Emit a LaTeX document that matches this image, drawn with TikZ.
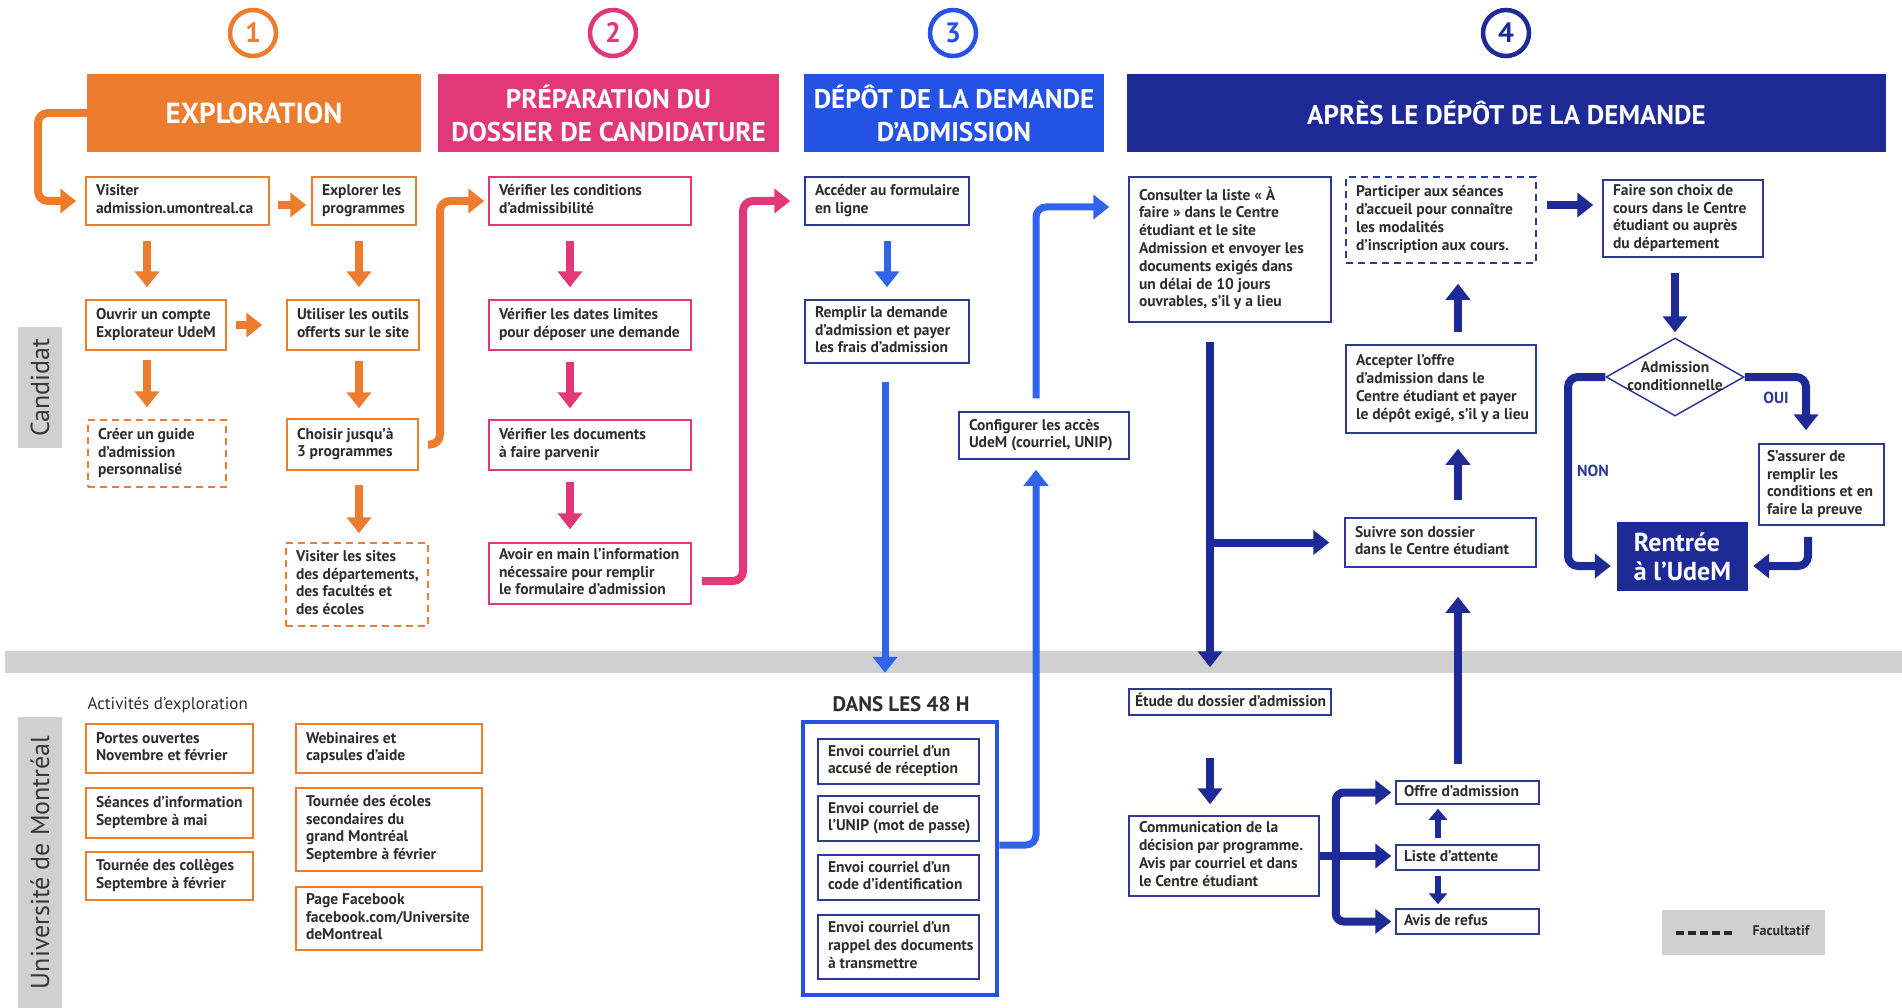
\documentclass[tikz,border=0pt]{standalone}
\usepackage{fontspec}
\setmainfont{PT Sans}
\usetikzlibrary{arrows.meta,shapes.geometric,calc}
\definecolor{orng}{RGB}{236,124,46}
\definecolor{pnk}{RGB}{226,56,122}
\definecolor{blu}{RGB}{36,82,228}
\definecolor{bluar}{RGB}{48,100,234}
\definecolor{navy}{RGB}{30,42,150}
\definecolor{bnavy}{RGB}{44,58,150}
\definecolor{lgray}{RGB}{208,208,208}
\definecolor{txt}{RGB}{45,45,45}
\definecolor{sidetxt}{RGB}{55,55,55}
\newcommand\padx{10}
\newcommand\mybx[7]{%
 \pgfmathsetmacro\bxw{#5-#3}%
 \pgfmathsetmacro\bxh{#6-#4}%
 \pgfmathsetmacro\bxcx{(#3+#5)/2}%
 \pgfmathsetmacro\bxcy{(#4+#6)/2}%
 \pgfmathsetmacro\bxtw{#5-#3-2*\padx}%
 \node[#1, minimum width=\bxw pt, minimum height=\bxh pt, inner xsep=\padx pt, inner ysep=0pt] (#2) at (\bxcx,\bxcy) {\makebox[\bxtw pt][l]{\begin{tabular}{@{}l@{}}#7\end{tabular}}};}
\begin{document}
\begin{tikzpicture}[x=1pt,y=-1pt,
  font=\fontsize{15.5}{17.8}\selectfont\bfseries,
  every node/.style={text=txt},
  ob/.style={draw=orng,line width=1.5pt},
  obd/.style={ob,dash pattern=on 7pt off 5pt},
  pb/.style={draw=pnk,line width=1.5pt},
  nb/.style={draw=bnavy,line width=1.5pt},
  nbd/.style={nb,dash pattern=on 7pt off 5pt},
  hdr/.style={text=white,align=center,inner sep=0pt,font=\fontsize{27}{33}\selectfont\bfseries},
  numc/.style={circle,fill=white,line width=4.5pt,minimum size=46pt,inner sep=0pt,font=\fontsize{28}{28}\selectfont\bfseries},
  sidelbl/.style={fill=lgray,rotate=90,inner sep=0pt,font=\fontsize{26}{26}\selectfont,text=sidetxt},
  oarr/.style={draw=orng,line width=8pt,-{Triangle[width=24pt,length=16pt]}},
  parr/.style={draw=pnk,line width=8pt,-{Triangle[width=24pt,length=16pt]}},
  barr/.style={draw=bluar,line width=7pt,-{Triangle[width=24pt,length=16pt]}},
  narr/.style={draw=navy,line width=8pt,-{Triangle[width=24pt,length=16pt]}},
  nsm/.style={draw=navy,line width=6pt,-{Triangle[width=18pt,length=11pt]}},
]
\useasboundingbox (0,0) rectangle (1902,1008);

% band and side labels
\fill[lgray] (5,651) rectangle (1902,673);
\node[sidelbl, minimum width=121pt, minimum height=44pt] (cand) at (40,387.5) {Candidat};
\node[sidelbl, minimum width=291pt, minimum height=44pt] (udem) at (40,862.5) {Université de Montréal};

% numbers
\node[numc, draw=orng, text=orng] (n1) at (253,33) {1};
\node[numc, draw=pnk, text=pnk] (n2) at (613,33) {2};
\node[numc, draw=blu, text=blu] (n3) at (953,33) {3};
\node[numc, draw=navy, text=navy] (n4) at (1506,33) {4};

% headers
\node[hdr, fill=orng, minimum width=334pt, minimum height=78pt, font=\fontsize{29}{30}\selectfont\bfseries] (h1) at (254,113) {EXPLORATION};
\node[hdr, fill=pnk, minimum width=341pt, minimum height=78pt] (h2) at (608.5,113) {PRÉPARATION DU\\DOSSIER DE CANDIDATURE};
\node[hdr, fill=blu, minimum width=300pt, minimum height=78pt] (h3) at (954,113) {DÉPÔT DE LA DEMANDE\\D’ADMISSION};
\node[hdr, fill=navy, minimum width=759pt, minimum height=78pt] (h4) at (1506.5,113) {APRÈS LE DÉPÔT DE LA DEMANDE};

% column 1
\mybx{ob}{visit}{86}{177}{269}{225}{Visiter\\admission.umontreal.ca}
\mybx{ob}{explorer}{312}{177}{416}{225}{Explorer les\\programmes}
\mybx{ob}{ouvrir}{86}{300}{226}{350}{Ouvrir un compte\\Explorateur UdeM}
\mybx{ob}{utiliser}{287}{300}{419}{350}{Utiliser les outils\\offerts sur le site}
\mybx{obd}{creer}{88}{420}{226}{487}{Créer un guide\\d’admission\\personnalisé}
\mybx{ob}{choisir}{287}{419}{418}{470}{Choisir jusqu’à\\3 programmes}
\mybx{obd}{sites}{286}{543}{428}{626}{Visiter les sites\\des départements,\\des facultés et\\des écoles}

% column 2
\mybx{pb}{v1}{489}{177}{691}{225}{Vérifier les conditions\\d’admissibilité}
\mybx{pb}{v2}{489}{300}{691}{350}{Vérifier les dates limites\\pour déposer une demande}
\mybx{pb}{v3}{489}{420}{691}{470}{Vérifier les documents\\à faire parvenir}
\mybx{pb}{v4}{489}{543}{691}{604}{Avoir en main l’information\\nécessaire pour remplir\\le formulaire d’admission}

% column 3
\mybx{nb}{acceder}{805}{177}{969}{225}{Accéder au formulaire\\en ligne}
\mybx{nb}{remplir}{805}{300}{969}{363}{Remplir la demande\\d’admission et payer\\les frais d’admission}
\mybx{nb}{config}{959}{412}{1129}{459}{Configurer les accès\\UdeM (courriel, UNIP)}
\node[font=\fontsize{21}{21}\selectfont\bfseries] (d48) at (901,704) {DANS LES 48 H};
\node[draw=blu, line width=4.5pt, minimum width=194pt, minimum height=273pt] (outer) at (900,858.5) {};
\mybx{nb}{e1}{818}{739}{979}{784}{Envoi courriel d’un\\accusé de réception}
\mybx{nb}{e2}{818}{796}{979}{841}{Envoi courriel de\\l’UNIP (mot de passe)}
\mybx{nb}{e3}{818}{855}{979}{900}{Envoi courriel d’un\\code d’identification}
\mybx{nb}{e4}{818}{915}{979}{979}{Envoi courriel d’un\\rappel des documents\\à transmettre}

% column 4
\mybx{nb}{consult}{1129}{177}{1331}{322}{Consulter la liste « À\\faire » dans le Centre\\étudiant  et le site\\Admission et envoyer les\\documents exigés dans\\un délai de 10 jours\\ouvrables,  s’il y a lieu}
\mybx{nbd}{particip}{1346}{177}{1536}{263}{Participer aux séances\\d’accueil pour connaître\\les modalités\\d’inscription aux cours.}
\mybx{nb}{faire}{1603}{180}{1763}{257}{Faire son choix de\\cours dans le Centre\\étudiant ou auprès\\du département}
\mybx{nb}{accepter}{1346}{345}{1536}{433}{Accepter l’offre\\d’admission dans le\\Centre étudiant et payer\\le dépôt exigé, s’il y a lieu}
\mybx{nb}{suivre}{1345}{518}{1536}{567}{Suivre son dossier\\dans le Centre étudiant}
\node[diamond, draw=bnavy, line width=1.5pt, minimum width=138pt, minimum height=78pt, inner sep=0pt] (diam) at (1675,377) {};
\node[align=center, inner sep=0pt] (diamtxt) at (1675,376) {Admission\\conditionnelle};
\renewcommand\padx{8}
\mybx{nb}{assurer}{1759}{444}{1884}{525}{S’assurer de\\remplir les\\conditions et en\\faire la preuve}
\node[fill=navy, text=white, minimum width=131pt, minimum height=69pt, align=left, font=\fontsize{26}{29}\selectfont\bfseries] (rentree) at (1682.5,556.5) {Rentrée\\à l’UdeM};
\node[text=bnavy, font=\fontsize{16}{16}\selectfont\bfseries] (non) at (1593,471) {NON};
\node[text=bnavy, font=\fontsize{16}{16}\selectfont\bfseries] (oui) at (1776,398) {OUI};
\renewcommand\padx{6}
\mybx{nb}{etude}{1129}{689}{1331}{715}{Étude du dossier d’admission}
\renewcommand\padx{10}
\mybx{nb}{comm}{1129}{816}{1319}{896}{Communication de la\\décision par programme.\\Avis par courriel et dans\\le Centre étudiant}
\renewcommand\padx{8}
\mybx{nb}{offre}{1396}{781}{1539}{804}{Offre d’admission}
\mybx{nb}{liste}{1396}{845}{1539}{870}{Liste d’attente}
\mybx{nb}{avis}{1396}{909}{1539}{934}{Avis de refus}
\renewcommand\padx{10}

% activities
\node[anchor=west, font=\fontsize{17}{17}\selectfont] (act) at (84,705) {Activités d’exploration};
\mybx{ob}{portes}{86}{724}{253}{773}{Portes ouvertes\\Novembre et février}
\mybx{ob}{seances}{86}{788}{253}{838}{Séances d’information\\Septembre à mai}
\mybx{ob}{colleges}{86}{852}{253}{900}{Tournée des collèges\\Septembre à février}
\mybx{ob}{webin}{296}{724}{482}{773}{Webinaires et\\capsules d’aide}
\mybx{ob}{ecoles}{296}{788}{482}{871}{Tournée des écoles\\secondaires du\\grand Montréal\\Septembre à février}
\mybx{ob}{facebook}{296}{887}{482}{950}{Page Facebook\\facebook.com/Universite\\deMontreal}

% legend
\node[fill=lgray, minimum width=163pt, minimum height=45pt] (leg) at (1743.5,932.5) {};
\draw[line width=4pt, black!85, dash pattern=on 8pt off 4pt] ([xshift=-67.5pt]leg.center) -- ([xshift=-10.5pt]leg.center);
\node[anchor=west, font=\fontsize{14}{14}\selectfont\bfseries] (fac) at (1749,931) {Facultatif};

% ---- connectors column 1
\draw[oarr, rounded corners=10pt] (h1.west) -- (38,113) -- (38,201) -- ([xshift=-9pt]visit.west);
\draw[oarr, shorten <=8pt, shorten >=5pt] ([yshift=-4pt]visit.east) -- ([yshift=-4pt]visit.east -| explorer.west);
\draw[oarr, shorten <=9pt, shorten >=24pt] (ouvrir.east) -- (ouvrir.east -| utiliser.west);
\draw[oarr, shorten <=15pt, shorten >=12pt] ([xshift=-9pt]ouvrir.north |- visit.south) -- ([xshift=-9pt]ouvrir.north);
\draw[oarr, shorten <=9pt, shorten >=12pt] ([xshift=-9pt]ouvrir.south) -- ([xshift=-9pt]ouvrir.south |- creer.north);
\draw[oarr, shorten <=15pt, shorten >=12pt] ([xshift=-5pt]explorer.south) -- ([xshift=-5pt]explorer.south |- utiliser.north);
\draw[oarr, shorten <=10pt, shorten >=10pt] ([xshift=-5pt]explorer.south |- utiliser.south) -- ([xshift=-5pt]explorer.south |- choisir.north);
\draw[oarr, shorten <=14pt, shorten >=9pt] ([xshift=-5pt]explorer.south |- choisir.south) -- ([xshift=-5pt]explorer.south |- sites.north);
\draw[oarr, rounded corners=10pt, shorten <=9pt] (choisir.east) -- (440,444.5) -- (440,201) -- ([xshift=-4pt]v1.west);

% ---- column 2
\draw[parr, shorten <=15pt, shorten >=12pt] ([xshift=-20pt]v1.south) -- ([xshift=-20pt]v2.north);
\draw[parr, shorten <=11pt, shorten >=11pt] ([xshift=-20pt]v2.south) -- ([xshift=-20pt]v3.north);
\draw[parr, shorten <=11pt, shorten >=13pt] ([xshift=-20pt]v3.south) -- ([xshift=-20pt]v4.north);
\draw[parr, rounded corners=10pt, shorten <=10pt] ([yshift=-7.5pt]v4.east) -- (743,581) -- (743,201) -- ([xshift=-14pt]acceder.west);

% ---- column 3
\draw[barr, shorten <=15pt, shorten >=12pt] (acceder.south) -- (remplir.north);
\draw[barr, shorten <=18pt, shorten >=20pt] ([xshift=-2pt]remplir.south) -- ([xshift=-2pt]remplir.south |- d48.north);
\draw[barr, rounded corners=10pt, shorten >=10pt] ([yshift=13.5pt]outer.east) -- (1036,845) -- ([xshift=-8pt]config.south);
\draw[barr, rounded corners=10pt, shorten <=13pt, shorten >=19pt] ([xshift=-8pt]config.north) -- (1036,207) -- ([yshift=42.5pt]consult.west);

% ---- column 4
\draw[narr, shorten <=19pt, shorten >=21pt] ([xshift=-20pt]consult.south) -- ([xshift=-20pt]etude.north);
\draw[narr, shorten >=15pt] ([xshift=-20pt]consult.south |- suivre.west) -- (suivre.west);
\draw[narr, shorten <=42pt, shorten >=11pt] ([xshift=-20pt]etude.south) -- ([xshift=-20pt]etude.south |- comm.north);
\draw[narr, shorten >=4pt] (comm.east) -- (comm.east -| liste.west);
\draw[narr, rounded corners=8pt, shorten >=4pt] ($(comm.east)+(16,0)$) |- (offre.west);
\draw[narr, rounded corners=8pt, shorten >=4pt] ($(comm.east)+(16,0)$) |- (avis.west);
\draw[nsm, shorten <=6pt, shorten >=4pt] ([xshift=-29.5pt]liste.north) -- ([xshift=-29.5pt]offre.south);
\draw[nsm, shorten <=5pt, shorten >=4pt] ([xshift=-29.5pt]liste.south) -- ([xshift=-29.5pt]avis.north);
\draw[narr, shorten <=16pt, shorten >=29pt] ([xshift=-9.5pt]offre.north) -- ([xshift=-9.5pt]offre.north |- suivre.south);
\draw[narr, shorten <=17pt, shorten >=15pt] ([xshift=17.5pt]suivre.north) -- ([xshift=17.5pt]suivre.north |- accepter.south);
\draw[narr, shorten <=12pt, shorten >=20pt] ([xshift=17pt]accepter.north) -- ([xshift=17pt]accepter.north |- particip.south);
\draw[narr, shorten <=10pt, shorten >=9pt] ([yshift=15pt]particip.east) -- ([yshift=15pt]particip.east -| faire.west);
\draw[narr, shorten <=15pt, shorten >=5pt] (diam.north |- faire.south) -- (diam.north);
\draw[narr, rounded corners=10pt, shorten >=6pt] (diam.west) -- (1568,377) -- (1568,566) -- ([yshift=-9.5pt]rentree.west);
\draw[narr, rounded corners=10pt, shorten >=13pt] (diam.east) -- (1806,377) -- ([xshift=-15.5pt]assurer.north);
\draw[narr, rounded corners=10pt, shorten <=11pt, shorten >=5pt] ([xshift=-13.5pt]assurer.south) -- (1808,566) -- ([yshift=-9.5pt]rentree.east);
\end{tikzpicture}
\end{document}
